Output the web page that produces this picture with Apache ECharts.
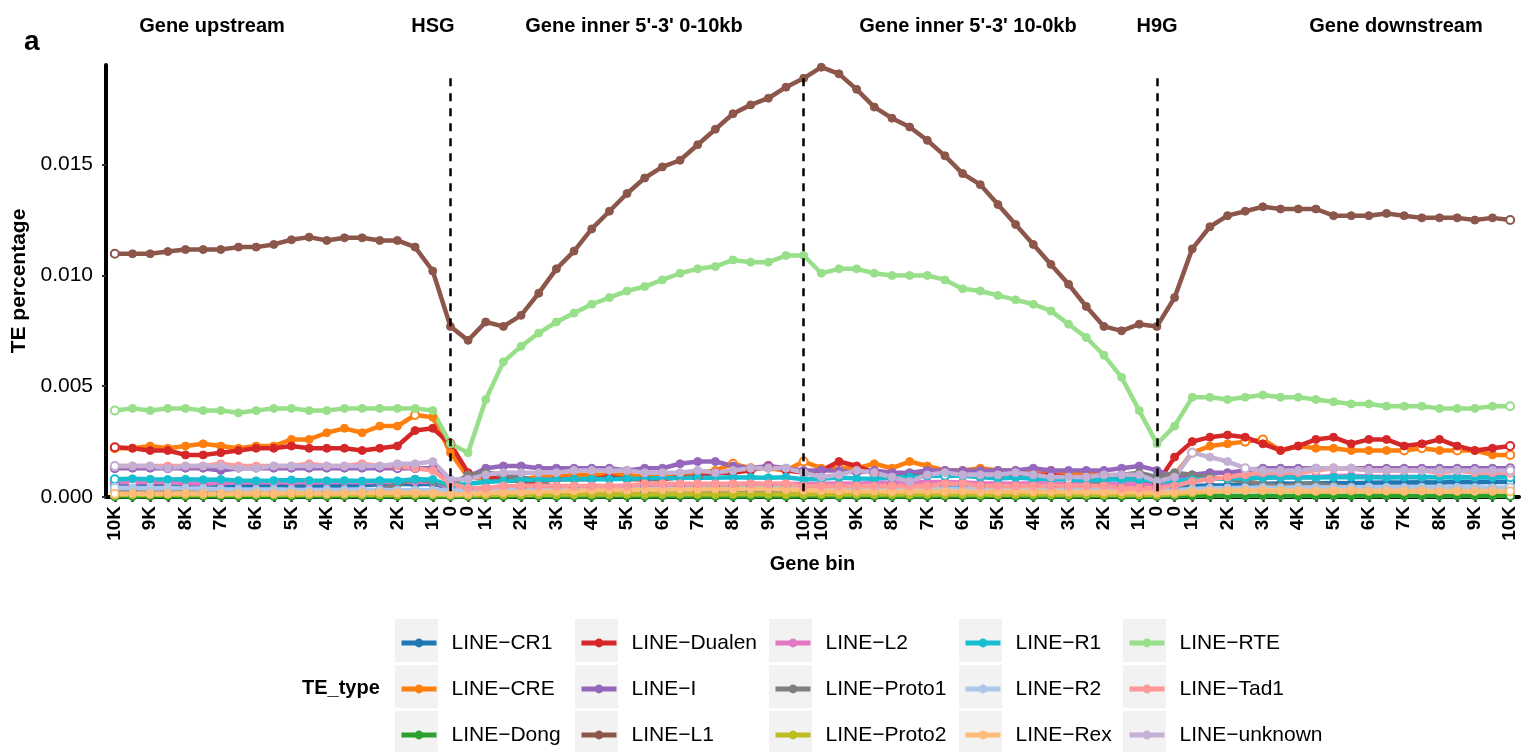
<!DOCTYPE html>
<html>
<head>
<meta charset="utf-8">
<title>TE percentage by gene bin</title>
<script src="https://cdn.jsdelivr.net/npm/echarts@6/dist/echarts.min.js"></script>
<style>
  html, body { margin: 0; padding: 0; background: #fff; }
  #chart { width: 1528px; height: 752px; }
</style>
</head>
<body>
<div id="chart"></div>
<script>
// Bin tick labels along the four gene regions (20 bins each)
const tickLabels = [
  '10K','','9K','','8K','','7K','','6K','','5K','','4K','','3K','','2K','','1K','0',
  '0','1K','','2K','','3K','','4K','','5K','','6K','','7K','','8K','','9K','','10K',
  '10K','','9K','','8K','','7K','','6K','','5K','','4K','','3K','','2K','','1K','0',
  '0','1K','','2K','','3K','','4K','','5K','','6K','','7K','','8K','','9K','','10K'
];

// Region headers and the bins where the region boundaries fall
const regionNames = ['Gene upstream', 'HSG', "Gene inner 5'-3' 0-10kb", "Gene inner 5'-3' 10-0kb", 'H9G', 'Gene downstream'];
const boundaryBins = [19, 39, 59];

const yTicks = [0, 0.005, 0.010, 0.015];

const teTypes = [
  'LINE-CR1', 'LINE-CRE', 'LINE-Dong', 'LINE-Dualen', 'LINE-I', 'LINE-L1', 'LINE-L2', 'LINE-Proto1',
  'LINE-Proto2', 'LINE-R1', 'LINE-R2', 'LINE-Rex', 'LINE-RTE', 'LINE-Tad1', 'LINE-unknown'
];

const lineCR1 = [
  0.00060,0.00058,0.00060,0.00057,0.00053,0.00052,0.00053,0.00051,0.00052,0.00053,0.00051,0.00052,0.00050,0.00052,0.00053,0.00058,0.00060,0.00058,0.00060,0.00040,
  0.00038,0.00040,0.00041,0.00040,0.00042,0.00041,0.00043,0.00044,0.00047,0.00046,0.00048,0.00047,0.00049,0.00048,0.00050,0.00049,0.00048,0.00050,0.00049,0.00050,
  0.00050,0.00052,0.00040,0.00050,0.00058,0.00052,0.00050,0.00049,0.00051,0.00050,0.00049,0.00052,0.00050,0.00048,0.00050,0.00049,0.00051,0.00050,0.00049,0.00042,
  0.00040,0.00050,0.00052,0.00053,0.00058,0.00060,0.00061,0.00060,0.00062,0.00063,0.00062,0.00064,0.00066,0.00065,0.00067,0.00066,0.00068,0.00067,0.00068,0.00068
];
const lineCRE = [
  0.0022,0.0022,0.0023,0.0022,0.0023,0.0024,0.0023,0.0022,0.0023,0.0023,0.0026,0.0026,0.0029,0.0031,0.0029,0.0032,0.0032,0.0037,0.0036,0.0020,
  0.0009,0.0008,0.0008,0.0008,0.0009,0.0009,0.0010,0.0010,0.0010,0.0010,0.0009,0.0010,0.0010,0.0011,0.0012,0.0015,0.0013,0.0013,0.0012,0.0016,
  0.0013,0.0013,0.0013,0.0015,0.0013,0.0016,0.0014,0.0012,0.0012,0.0013,0.0012,0.0012,0.0012,0.0012,0.0011,0.0011,0.0010,0.0009,0.0008,0.0006,
  0.0010,0.0020,0.0023,0.0024,0.0025,0.0026,0.0021,0.0023,0.0022,0.0022,0.0021,0.0021,0.0021,0.0021,0.0022,0.0021,0.0021,0.0021,0.0019,0.0019
];
const lineDong = [
  0.00003,0.00002,0.00003,0.00003,0.00002,0.00003,0.00003,0.00002,0.00003,0.00002,0.00003,0.00003,0.00002,0.00003,0.00003,0.00002,0.00003,0.00003,0.00002,0.00002,
  0.00002,0.00003,0.00002,0.00003,0.00003,0.00002,0.00003,0.00002,0.00003,0.00003,0.00002,0.00003,0.00003,0.00002,0.00003,0.00002,0.00003,0.00003,0.00002,0.00003,
  0.00003,0.00002,0.00003,0.00003,0.00002,0.00003,0.00002,0.00003,0.00003,0.00002,0.00003,0.00003,0.00002,0.00003,0.00002,0.00003,0.00003,0.00002,0.00003,0.00002,
  0.00003,0.00004,0.00005,0.00006,0.00005,0.00006,0.00005,0.00004,0.00005,0.00005,0.00004,0.00005,0.00005,0.00004,0.00005,0.00004,0.00005,0.00005,0.00004,0.00005
];
const lineDualen = [
  0.00225,0.0022,0.0021,0.0021,0.0019,0.0019,0.0020,0.0021,0.0022,0.0022,0.0023,0.0022,0.0022,0.0022,0.0021,0.0022,0.0023,0.0030,0.0031,0.0024,
  0.0011,0.0009,0.0008,0.0007,0.0007,0.0008,0.0008,0.0008,0.0009,0.0008,0.0008,0.0008,0.0009,0.0009,0.0011,0.0011,0.0012,0.0014,0.0012,0.0011,
  0.0012,0.0016,0.0014,0.0011,0.0009,0.0010,0.0010,0.0010,0.0010,0.0009,0.0009,0.0009,0.0010,0.0010,0.0009,0.0009,0.0010,0.0008,0.0008,0.0006,
  0.0018,0.0025,0.0027,0.0028,0.0027,0.0024,0.0021,0.0023,0.0026,0.0027,0.0024,0.0026,0.0026,0.0023,0.0024,0.0026,0.0023,0.0021,0.0022,0.0023
];
const lineI = [
  0.0013,0.0013,0.0013,0.0013,0.0013,0.0013,0.0012,0.0013,0.0013,0.0013,0.0013,0.0013,0.0013,0.0013,0.0013,0.0013,0.0013,0.0013,0.0013,0.0007,
  0.0009,0.0013,0.0014,0.0014,0.0013,0.0013,0.0013,0.0013,0.0013,0.0012,0.0013,0.0013,0.0015,0.0016,0.0016,0.0014,0.0013,0.0014,0.0013,0.0012,
  0.0012,0.0012,0.0011,0.0012,0.0011,0.0011,0.0012,0.0012,0.0012,0.0012,0.0012,0.0012,0.0013,0.0012,0.0012,0.0012,0.0012,0.0013,0.0014,0.0012,
  0.0009,0.0010,0.0011,0.0011,0.0012,0.0013,0.0013,0.0013,0.0013,0.0013,0.0013,0.0013,0.0013,0.0013,0.0013,0.0013,0.0013,0.0013,0.0013,0.0013
];
const lineL1 = [
  0.01098,0.01098,0.01098,0.01108,0.01117,0.01117,0.01117,0.01128,0.01128,0.0114,0.01161,0.01173,0.01158,0.0117,0.0117,0.01158,0.01158,0.01128,0.0102,0.0077,
  0.00707,0.0079,0.0077,0.0082,0.0092,0.0103,0.0111,0.0121,0.0129,0.0137,0.0144,0.0149,0.0152,0.0159,0.0166,0.0173,0.0177,0.0180,0.0185,0.0189,
  0.0194,0.0191,0.0184,0.0176,0.0171,0.0167,0.0161,0.0154,0.0146,0.0141,0.0132,0.0123,0.0114,0.0105,0.0096,0.0086,0.0077,0.0075,0.0078,0.0077,
  0.0090,0.0112,0.0122,0.0127,0.0129,0.0131,0.0130,0.0130,0.0130,0.0127,0.0127,0.0127,0.0128,0.0127,0.0126,0.0126,0.0126,0.0125,0.0126,0.0125
];
const lineL2 = [
  0.00068,0.00066,0.00068,0.00066,0.00062,0.00061,0.00063,0.00066,0.00067,0.00068,0.00066,0.00068,0.00067,0.00069,0.00068,0.00067,0.00069,0.00070,0.00068,0.00040,
  0.00040,0.00042,0.00041,0.00043,0.00044,0.00047,0.00048,0.00050,0.00049,0.00051,0.00052,0.00051,0.00053,0.00054,0.00057,0.00058,0.00060,0.00058,0.00060,0.00059,
  0.00060,0.00061,0.00060,0.00063,0.00066,0.00068,0.00067,0.00068,0.00066,0.00062,0.00061,0.00060,0.00062,0.00061,0.00060,0.00059,0.00060,0.00058,0.00057,0.00050,
  0.00060,0.00072,0.00080,0.00086,0.00088,0.00090,0.00089,0.00091,0.00090,0.00095,0.00096,0.00092,0.00090,0.00091,0.00089,0.00090,0.00091,0.00089,0.00090,0.00090
];
const lineProto1 = [
  0.00020,0.00021,0.00020,0.00022,0.00021,0.00020,0.00022,0.00021,0.00023,0.00022,0.00021,0.00023,0.00024,0.00023,0.00025,0.00030,0.00060,0.00080,0.00070,0.00050,
  0.00100,0.00110,0.00100,0.00090,0.00070,0.00040,0.00030,0.00028,0.00027,0.00028,0.00026,0.00027,0.00028,0.00026,0.00027,0.00028,0.00027,0.00026,0.00027,0.00028,
  0.00027,0.00026,0.00028,0.00027,0.00026,0.00028,0.00027,0.00026,0.00027,0.00028,0.00026,0.00027,0.00028,0.00030,0.00035,0.00045,0.00080,0.00100,0.00110,0.00090,
  0.00110,0.00100,0.00090,0.00080,0.00070,0.00060,0.00050,0.00055,0.00060,0.00050,0.00045,0.00044,0.00042,0.00043,0.00041,0.00042,0.00040,0.00041,0.00040,0.00040
];
const lineProto2 = [
  0.00010,0.00011,0.00010,0.00011,0.00010,0.00010,0.00011,0.00010,0.00011,0.00010,0.00011,0.00010,0.00010,0.00011,0.00010,0.00011,0.00010,0.00011,0.00010,0.00008,
  0.00008,0.00009,0.00010,0.00010,0.00011,0.00010,0.00011,0.00012,0.00011,0.00012,0.00011,0.00012,0.00013,0.00012,0.00011,0.00012,0.00013,0.00012,0.00011,0.00012,
  0.00012,0.00011,0.00012,0.00011,0.00012,0.00011,0.00012,0.00011,0.00012,0.00011,0.00010,0.00011,0.00012,0.00011,0.00010,0.00011,0.00010,0.00011,0.00010,0.00009,
  0.00012,0.00018,0.00024,0.00028,0.00030,0.00029,0.00027,0.00026,0.00025,0.00026,0.00027,0.00025,0.00026,0.00025,0.00027,0.00026,0.00025,0.00026,0.00025,0.00026
];
const lineR1 = [
  0.00080,0.00082,0.00080,0.00079,0.00080,0.00078,0.00079,0.00074,0.00073,0.00074,0.00077,0.00074,0.00073,0.00074,0.00072,0.00074,0.00073,0.00080,0.00079,0.00050,
  0.00060,0.00068,0.00072,0.00076,0.00078,0.00079,0.00080,0.00081,0.00080,0.00082,0.00083,0.00085,0.00086,0.00088,0.00087,0.00089,0.00088,0.00087,0.00089,0.00080,
  0.00082,0.00088,0.00083,0.00082,0.00088,0.00090,0.00095,0.00097,0.00096,0.00090,0.00083,0.00088,0.00082,0.00081,0.00079,0.00074,0.00078,0.00080,0.00079,0.00070,
  0.00072,0.00078,0.00081,0.00083,0.00086,0.00087,0.00088,0.00089,0.00088,0.00089,0.00090,0.00089,0.00088,0.00089,0.00090,0.00089,0.00088,0.00089,0.00088,0.00089
];
const lineR2 = [
  0.00042,0.00041,0.00040,0.00041,0.00039,0.00038,0.00035,0.00034,0.00033,0.00034,0.00033,0.00032,0.00033,0.00032,0.00033,0.00032,0.00031,0.00032,0.00031,0.00030,
  0.00029,0.00030,0.00031,0.00032,0.00033,0.00034,0.00033,0.00035,0.00034,0.00036,0.00035,0.00037,0.00036,0.00038,0.00037,0.00038,0.00039,0.00038,0.00040,0.00039,
  0.00040,0.00039,0.00041,0.00040,0.00039,0.00038,0.00039,0.00037,0.00038,0.00036,0.00037,0.00035,0.00036,0.00035,0.00034,0.00035,0.00034,0.00033,0.00034,0.00030,
  0.00032,0.00036,0.00039,0.00041,0.00042,0.00043,0.00042,0.00044,0.00043,0.00044,0.00043,0.00045,0.00044,0.00043,0.00044,0.00043,0.00044,0.00043,0.00042,0.00043
];
const lineRex = [
  0.00015,0.00016,0.00015,0.00016,0.00017,0.00016,0.00015,0.00016,0.00017,0.00016,0.00018,0.00017,0.00016,0.00017,0.00018,0.00020,0.00019,0.00018,0.00017,0.00012,
  0.00014,0.00018,0.00020,0.00022,0.00024,0.00026,0.00028,0.00030,0.00033,0.00031,0.00034,0.00033,0.00035,0.00034,0.00036,0.00035,0.00037,0.00036,0.00034,0.00030,
  0.00028,0.00027,0.00026,0.00027,0.00025,0.00026,0.00027,0.00025,0.00026,0.00024,0.00025,0.00026,0.00024,0.00025,0.00023,0.00024,0.00022,0.00023,0.00021,0.00018,
  0.00020,0.00024,0.00027,0.00028,0.00029,0.00030,0.00029,0.00028,0.00027,0.00028,0.00029,0.00027,0.00028,0.00027,0.00028,0.00026,0.00027,0.00026,0.00027,0.00026
];
const lineRTE = [
  0.0039,0.0040,0.0039,0.0040,0.0040,0.0039,0.0039,0.0038,0.0039,0.0040,0.0040,0.0039,0.0039,0.0040,0.0040,0.0040,0.0040,0.0040,0.0039,0.0024,
  0.0020,0.0044,0.0061,0.0068,0.0074,0.0079,0.0083,0.0087,0.0090,0.0093,0.0095,0.0098,0.0101,0.0103,0.0104,0.0107,0.0106,0.0106,0.0109,0.0109,
  0.0101,0.0103,0.0103,0.0101,0.0100,0.0100,0.0100,0.0098,0.0094,0.0093,0.0091,0.0089,0.0087,0.0084,0.0078,0.0072,0.0064,0.0054,0.0039,0.0024,
  0.0032,0.0045,0.0045,0.0044,0.0045,0.0046,0.0045,0.0045,0.0044,0.0043,0.0042,0.0042,0.0041,0.0041,0.0041,0.0040,0.0040,0.0040,0.0041,0.0041
];
const lineTad1 = [
  0.0014,0.0014,0.0014,0.0014,0.0014,0.0014,0.0015,0.0014,0.0014,0.0014,0.0014,0.0015,0.0014,0.0014,0.0015,0.0014,0.0014,0.0013,0.0012,0.0006,
  0.0004,0.0004,0.0005,0.0005,0.0005,0.0005,0.0005,0.0005,0.0005,0.0005,0.0006,0.0006,0.0006,0.0006,0.0006,0.0006,0.0006,0.0006,0.0006,0.0005,
  0.0005,0.0005,0.0005,0.0005,0.0005,0.0005,0.0005,0.0006,0.0006,0.0005,0.0005,0.0005,0.0005,0.0005,0.0005,0.0005,0.0005,0.0004,0.0004,0.0004,
  0.0005,0.0007,0.0008,0.0009,0.0010,0.0011,0.0011,0.0011,0.0012,0.0013,0.0013,0.0012,0.0012,0.0012,0.0012,0.0011,0.0012,0.0011,0.0011,0.0011
];
const lineUnknown = [
  0.0014,0.0014,0.0014,0.0013,0.0014,0.0014,0.0014,0.0013,0.0013,0.0014,0.0014,0.0014,0.0014,0.0014,0.0014,0.0014,0.0015,0.0015,0.0016,0.0008,
  0.0008,0.0010,0.0011,0.0011,0.0011,0.0011,0.0012,0.0012,0.0012,0.0012,0.0011,0.0011,0.0011,0.0012,0.0011,0.0012,0.0013,0.0013,0.0013,0.0011,
  0.0009,0.0010,0.0012,0.0011,0.0009,0.0007,0.0010,0.0011,0.0010,0.0010,0.0010,0.0011,0.0010,0.0009,0.0009,0.0009,0.0010,0.0010,0.0010,0.0007,
  0.0009,0.0020,0.0018,0.0016,0.0013,0.0012,0.0012,0.0012,0.0013,0.0013,0.0013,0.0012,0.0012,0.0012,0.0012,0.0012,0.0012,0.0012,0.0012,0.0012
];

const seriesValues = [
  lineCR1, lineCRE, lineDong, lineDualen, lineI, lineL1, lineL2, lineProto1,
  lineProto2, lineR1, lineR2, lineRex, lineRTE, lineTad1, lineUnknown
];

// Bins drawn as open rings (besides the two ends of every line)
const openBins = {
  'LINE-CRE': [17, 35, 36, 39, 41, 61, 64, 65, 73, 74, 76],
  'LINE-Dualen': [19, 30, 33, 37, 43],
  'LINE-I': [3, 16, 17],
  'LINE-Tad1': [68, 69],
  'LINE-unknown': [61, 64],
  'LINE-R1': [47, 54],
  'LINE-L2': [1, 2, 3, 9, 11]
};

const palette = [
  '#1f77b4', '#ff7f0e', '#2ca02c', '#d62728', '#9467bd', '#8c564b', '#e377c2', '#7f7f7f',
  '#bcbd22', '#17becf', '#aec7e8', '#ffbb78', '#98df8a', '#ff9896', '#c5b0d5'
];

const FONT = "'Liberation Sans', Arial, Helvetica, sans-serif";
const yMax = 0.0195;
const nBins = tickLabels.length;

const series = teTypes.map((name, s) => {
  const open = new Set([0, nBins - 1].concat(openBins[name] || []));
  const data = seriesValues[s].map((v, i) => open.has(i)
    ? { value: v, symbol: 'emptyCircle', symbolSize: 8, itemStyle: { borderWidth: 2 } }
    : v);
  return {
    name: name,
    type: 'line',
    data: data,
    symbol: 'circle',
    symbolSize: 8,
    showAllSymbol: true,
    color: palette[s],
    lineStyle: { width: 4.5, color: palette[s] },
    itemStyle: { color: palette[s], borderColor: palette[s] },
    emphasis: { disabled: true },
    animation: false,
    silent: true
  };
});

// Dashed region boundaries, drawn top-down and carried by the top-most line
series[series.length - 1].markLine = {
  silent: true,
  symbol: ['none', 'none'],
  label: { show: false },
  animation: false,
  lineStyle: { color: '#000', width: 2.5, type: [8, 7] },
  emphasis: { disabled: true },
  data: boundaryBins.map(b => [{ coord: [b, 0.0189] }, { coord: [b, 0] }])
};

// Legend: five columns of three keys on grey key boxes
const legendCols = [395, 575, 769, 959, 1123];
const legendRowTop = 619, legendRowStep = 46, keySize = 43, legendLine = 22;
const legends = legendCols.map((x, c) => ({
  show: true,
  data: teTypes.slice(c * 3, c * 3 + 3),
  orient: 'vertical',
  left: x + 4,
  top: legendRowTop + (keySize - legendLine) / 2 + 2.5,
  height: 3 * legendLine + 2 * (legendRowStep - legendLine) + 4,
  padding: 0,
  itemWidth: 35,
  itemHeight: 11,
  itemGap: legendRowStep - legendLine,
  selectedMode: false,
  lineStyle: { width: 5 },
  formatter: n => n.replace('-', '\u2212'),
  textStyle: { fontFamily: FONT, fontSize: 21, color: '#000', lineHeight: legendLine, padding: [0, 0, 0, 10] }
}));

const keyBoxes = [];
legendCols.forEach(x => {
  for (let r = 0; r < 3; r++) {
    keyBoxes.push({
      type: 'rect', z: -10, silent: true,
      shape: { x: x, y: legendRowTop + r * legendRowStep, width: keySize, height: keySize },
      style: { fill: '#f2f2f2' }
    });
  }
});

const headerCenters = [212, 433, 634, 968, 1157, 1396];
const headers = regionNames.map((t, i) => ({
  type: 'text', silent: true,
  x: headerCenters[i], y: 26,
  style: { text: t, fill: '#000', font: 'bold 20px ' + FONT, textAlign: 'center', textVerticalAlign: 'middle' }
}));

const chart = echarts.init(document.getElementById('chart'), null, { renderer: 'canvas' });
chart.setOption({
  backgroundColor: '#fff',
  animation: false,
  grid: { left: 106, right: 9, top: 65, bottom: 255, containLabel: false },
  xAxis: {
    type: 'category',
    data: tickLabels.map((_, i) => i),
    boundaryGap: true,
    name: 'Gene bin',
    nameLocation: 'middle',
    nameGap: 57,
    nameTextStyle: { fontFamily: FONT, fontSize: 20, fontWeight: 'bold', color: '#000' },
    axisLine: { show: true, onZero: false, lineStyle: { color: '#000', width: 4 } },
    axisTick: { show: true, interval: 0, alignWithLabel: true, length: 5, lineStyle: { color: '#333', width: 2.5 } },
    axisLabel: {
      interval: 0,
      rotate: 90,
      margin: 9,
      fontFamily: FONT,
      fontSize: 19,
      fontWeight: 'bold',
      color: '#000',
      padding: [12, 0, 0, 0],
      formatter: (v, i) => tickLabels[i]
    },
    splitLine: { show: false }
  },
  yAxis: {
    type: 'value',
    min: 0,
    max: yMax,
    name: 'TE percentage',
    nameLocation: 'middle',
    nameRotate: 90,
    nameGap: 74,
    nameTextStyle: { fontFamily: FONT, fontSize: 21, fontWeight: 'bold', color: '#000' },
    axisLine: { show: true, onZero: false, lineStyle: { color: '#000', width: 4 } },
    axisTick: { show: true, length: 4, customValues: yTicks, lineStyle: { color: '#333', width: 2 } },
    axisLabel: {
      customValues: yTicks,
      margin: 13,
      fontFamily: FONT,
      fontSize: 21,
      color: '#000',
      formatter: v => v.toFixed(3)
    },
    splitLine: { show: false }
  },
  legend: legends,
  graphic: [
    { type: 'text', silent: true, x: 24, y: 42,
      style: { text: 'a', fill: '#000', font: 'bold 28px ' + FONT, textVerticalAlign: 'middle' } },
    { type: 'text', silent: true, x: 302, y: 688,
      style: { text: 'TE_type', fill: '#000', font: 'bold 20px ' + FONT, textVerticalAlign: 'middle' } }
  ].concat(headers, keyBoxes),
  series: series
});
</script>
</body>
</html>
